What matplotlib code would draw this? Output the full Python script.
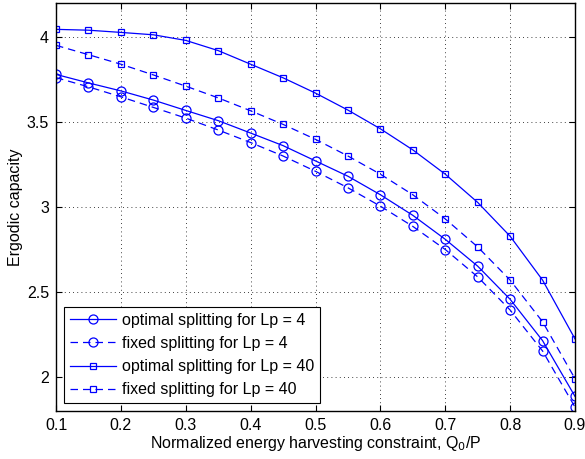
import numpy as np
import matplotlib
matplotlib.use("Agg")
import matplotlib.pyplot as plt

plt.rcParams['font.family'] = ['Liberation Sans', 'DejaVu Sans']

x = [0.1, 0.15, 0.2, 0.25, 0.3, 0.35, 0.4, 0.45, 0.5, 0.55, 0.6, 0.65, 0.7, 0.75, 0.8, 0.85, 0.9]
opt_lp4 = [3.78, 3.73, 3.683, 3.629, 3.568, 3.508, 3.435, 3.361, 3.271, 3.181, 3.072, 2.951, 2.81, 2.652, 2.457, 2.214, 1.886]
fix_lp4 = [3.761, 3.707, 3.648, 3.586, 3.523, 3.453, 3.379, 3.30, 3.21, 3.113, 3.005, 2.886, 2.75, 2.589, 2.394, 2.153, 1.823]
opt_lp40 = [4.045, 4.04, 4.027, 4.013, 3.98, 3.92, 3.84, 3.76, 3.67, 3.57, 3.46, 3.336, 3.193, 3.027, 2.828, 2.57, 2.224]
fix_lp40 = [3.951, 3.896, 3.84, 3.777, 3.711, 3.642, 3.566, 3.486, 3.398, 3.30, 3.193, 3.072, 2.93, 2.765, 2.57, 2.325, 1.99]
labels = ['optimal splitting for Lp = 4', 'fixed splitting for Lp = 4',
          'optimal splitting for Lp = 40', 'fixed splitting for Lp = 40']
xticks = [0.1, 0.2, 0.3, 0.4, 0.5, 0.6, 0.7, 0.8, 0.9]
yticks = [2, 2.5, 3, 3.5, 4]

fs = 11.5
fig = plt.figure(figsize=(5.85, 4.59), dpi=100)
ax = fig.add_axes([56/585, 1-411/459, (575-56)/585, (411-3)/459])
blue = '#0000ff'
dash = (0, (6, 4))
ax.plot(x, opt_lp4, color=blue, lw=0.9, ls='-', marker='o', ms=6.5, mfc='none', mec=blue, mew=0.9, label=labels[0])
ax.plot(x, fix_lp4, color=blue, lw=0.9, ls=dash, marker='o', ms=6.5, mfc='none', mec=blue, mew=0.9, label=labels[1])
ax.plot(x, opt_lp40, color=blue, lw=0.9, ls='-', marker='s', ms=5, mfc='none', mec=blue, mew=0.9, label=labels[2])
ax.plot(x, fix_lp40, color=blue, lw=0.9, ls=dash, marker='s', ms=5, mfc='none', mec=blue, mew=0.9, label=labels[3])

ax.set_xlim(0.1, 0.9)
ax.set_ylim(1.8, 4.2)
ax.set_xticks(xticks)
ax.set_xticklabels([f'{t:g}' for t in xticks])
ax.set_yticks(yticks)
ax.set_yticklabels([f'{t:g}' for t in yticks])
ax.tick_params(direction='in', top=True, right=True, labelsize=fs, length=4, width=0.8, pad=5)
ax.grid(True, color='black', ls=(0, (1, 4)), lw=0.6)
for s in ax.spines.values():
    s.set_linewidth(1.0)
ax.set_xlabel('Normalized energy harvesting constraint, Q$_0$/P', fontsize=fs, labelpad=1)
ax.set_ylabel('Ergodic capacity', fontsize=fs, labelpad=3)

leg = ax.legend(loc='lower left', fontsize=fs, frameon=True, fancybox=False,
                edgecolor='black', framealpha=1, borderpad=0.35, labelspacing=0.52,
                handlelength=2.9, handletextpad=0.4, borderaxespad=0.5)
leg.get_frame().set_linewidth(0.8)

fig.savefig('out.png', dpi=100)
